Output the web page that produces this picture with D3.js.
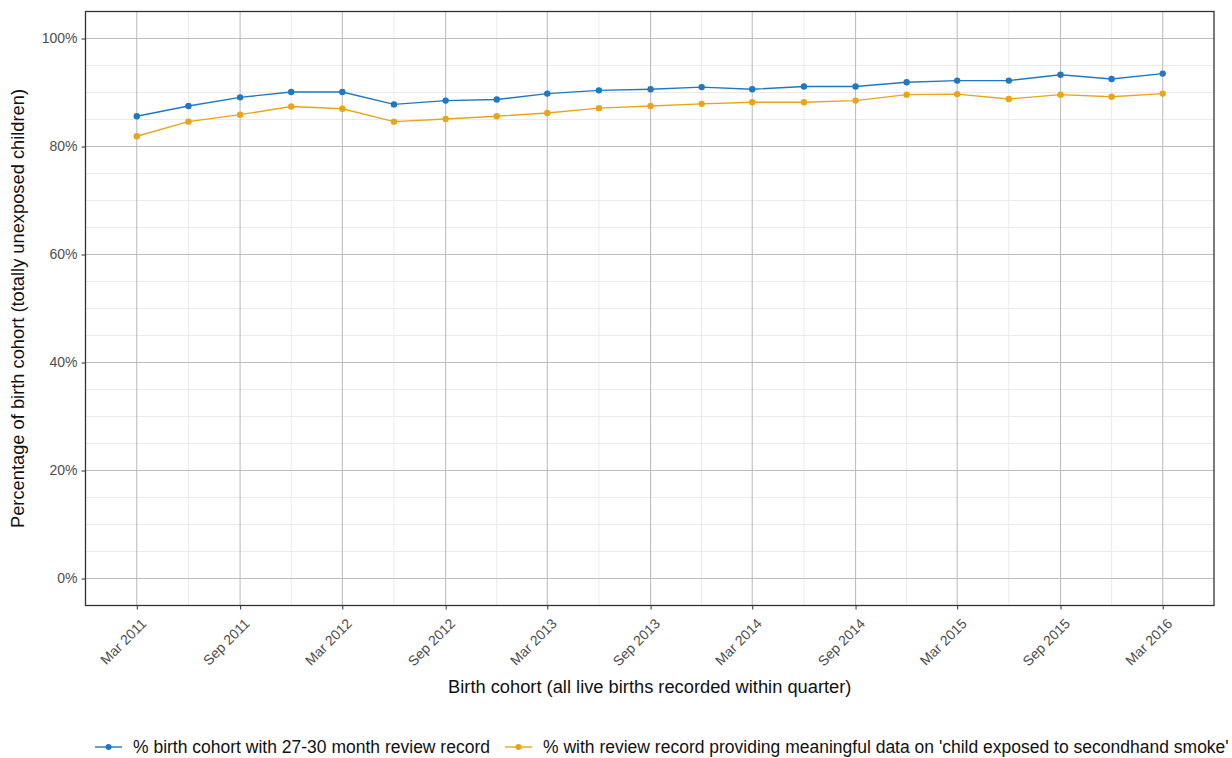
<!DOCTYPE html>
<html><head><meta charset="utf-8">
<script src="https://cdn.jsdelivr.net/npm/d3@7"></script>
<style>
body{margin:0;background:#fff;overflow:hidden;}
text{font-family:"Liberation Sans",Arial,sans-serif;}
</style>
</head><body>
<svg id="chart" width="1232" height="758"></svg>
<script>
// ---- data ----
const quarters = ["2011-03","2011-06","2011-09","2011-12","2012-03","2012-06","2012-09","2012-12",
  "2013-03","2013-06","2013-09","2013-12","2014-03","2014-06","2014-09","2014-12",
  "2015-03","2015-06","2015-09","2015-12","2016-03"];
const reviewRecord = [85.6,87.5,89.1,90.1,90.1,87.8,88.5,88.7,89.8,90.4,90.6,91.0,90.6,91.1,91.1,91.9,92.2,92.2,93.3,92.5,93.5];
const meaningfulData = [81.9,84.6,85.9,87.4,87.0,84.6,85.1,85.6,86.2,87.1,87.5,87.9,88.2,88.2,88.5,89.6,89.7,88.8,89.6,89.2,89.8];
const yTicks = [0,20,40,60,80,100];
const yMinorTicks = [5,10,15,25,30,35,45,50,55,65,70,75,85,90,95];
const seriesNames = ["% birth cohort with 27-30 month review record",
  "% with review record providing meaningful data on 'child exposed to secondhand smoke'"];
const seriesColors = ["#1f78c1","#e8a51c"];
const xTitle = "Birth cohort (all live births recorded within quarter)";
const yTitle = "Percentage of birth cohort (totally unexposed children)";

// ---- layout ----
const svg = d3.select("#chart");
const P = {left:85.5, right:1214, top:11.5, bottom:605.5};
const parse = d3.timeParse("%Y-%m");
const dates = quarters.map(parse);
const d0 = dates[0], d1 = dates[dates.length-1];
const span = d1 - d0;
const x = d3.scaleTime()
  .domain([new Date(+d0 - span*0.05), new Date(+d1 + span*0.05)])
  .range([P.left, P.right]);
const y = d3.scaleLinear().domain([-5,105]).range([P.bottom, P.top]);

const majorX = dates.filter((d,i)=> i%2===0);
const minorX = dates.filter((d,i)=> i%2===1);

const g = svg.append("g");
// minor grid
g.selectAll(".ymin").data(yMinorTicks).join("line")
  .attr("x1",P.left).attr("x2",P.right)
  .attr("y1",d=>y(d)).attr("y2",d=>y(d))
  .attr("stroke","#ebebeb").attr("stroke-width",1);
g.selectAll(".xmin").data(minorX).join("line")
  .attr("y1",P.top).attr("y2",P.bottom)
  .attr("x1",d=>x(d)).attr("x2",d=>x(d))
  .attr("stroke","#ebebeb").attr("stroke-width",1);
// major grid
g.selectAll(".ymaj").data(yTicks).join("line")
  .attr("x1",P.left).attr("x2",P.right)
  .attr("y1",d=>y(d)).attr("y2",d=>y(d))
  .attr("stroke","#bebebe").attr("stroke-width",1.1);
g.selectAll(".xmaj").data(majorX).join("line")
  .attr("y1",P.top).attr("y2",P.bottom)
  .attr("x1",d=>x(d)).attr("x2",d=>x(d))
  .attr("stroke","#bebebe").attr("stroke-width",1.1);

// series
const series = [reviewRecord, meaningfulData];
const line = d3.line().x((d,i)=>x(dates[i])).y(d=>y(d));
series.forEach((s,k)=>{
  svg.append("path").datum(s).attr("d",line)
    .attr("fill","none").attr("stroke",seriesColors[k]).attr("stroke-width",1.4);
  svg.selectAll(".pt"+k).data(s).join("circle")
    .attr("cx",(d,i)=>x(dates[i])).attr("cy",d=>y(d)).attr("r",3.2)
    .attr("fill",seriesColors[k]);
});

// panel border
svg.append("rect").attr("x",P.left).attr("y",P.top)
  .attr("width",P.right-P.left).attr("height",P.bottom-P.top)
  .attr("fill","none").attr("stroke","#333").attr("stroke-width",1.3);

// axes
const fmt = d3.timeFormat("%b %Y");
const xAxis = d3.axisBottom(x).tickValues(majorX).tickFormat(fmt).tickSize(4).tickPadding(3);
const xa = svg.append("g").attr("transform",`translate(0,${P.bottom})`).call(xAxis);
xa.select(".domain").remove();
xa.selectAll(".tick line").attr("stroke","#333");
xa.selectAll(".tick text")
  .attr("fill","#4d4d4d").attr("font-size",14)
  .attr("text-anchor","end").attr("dy",null).attr("y",null)
  .attr("transform","translate(10,19) rotate(-45)");

const yAxis = d3.axisLeft(y).tickValues(yTicks).tickFormat(d=>d+"%").tickSize(4).tickPadding(4);
const ya = svg.append("g").attr("transform",`translate(${P.left},0)`).call(yAxis);
ya.select(".domain").remove();
ya.selectAll(".tick line").attr("stroke","#333");
ya.selectAll(".tick text").attr("fill","#4d4d4d").attr("font-size",14);

// titles
svg.append("text").attr("x",(P.left+P.right)/2).attr("y",693)
  .attr("text-anchor","middle").attr("font-size",18.3).attr("fill","#111").text(xTitle);
svg.append("text").attr("transform",`translate(24,${(P.top+P.bottom)/2}) rotate(-90)`)
  .attr("text-anchor","middle").attr("font-size",18.3).attr("fill","#111").text(yTitle);

// legend
const legX = [95, 505];
seriesNames.forEach((n,k)=>{
  const lg = svg.append("g").attr("transform",`translate(${legX[k]},747)`);
  lg.append("line").attr("x1",0).attr("x2",27).attr("y1",0).attr("y2",0)
    .attr("stroke",seriesColors[k]).attr("stroke-width",1.4);
  lg.append("circle").attr("cx",13.5).attr("cy",0).attr("r",3).attr("fill",seriesColors[k]);
  lg.append("text").attr("x",38).attr("y",6).attr("font-size",17.5).attr("fill","#111").text(n);
});
</script>
</body></html>
